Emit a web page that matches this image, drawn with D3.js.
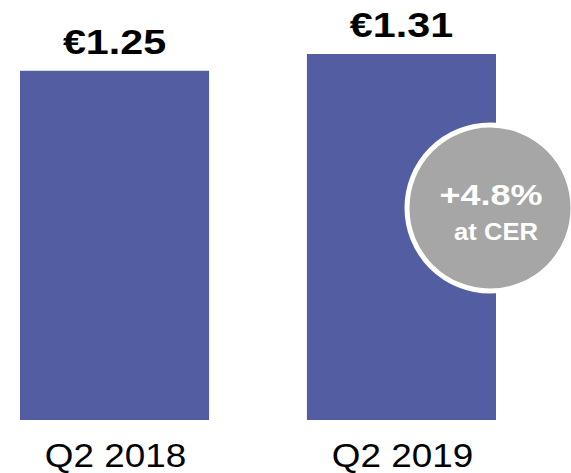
<!DOCTYPE html>
<html lang="en">
	<head>
		<meta charset="utf-8">
		<title>Q2 EPS</title>
		<script type="text/javascript" src="https://cdn.jsdelivr.net/npm/d3@7"></script>
		<style type="text/css">
			body { margin: 0; background: #fff; }
		</style>
	</head>
	<body>
		<script type="text/javascript">

			//Width and height
			var w = 571;
			var h = 473;

			//Data
			var categories = ["Q2 2018", "Q2 2019"];
			var values = [1.25, 1.31];
			var valueLabels = ["€1.25", "€1.31"];
			var growthLabel = ["+4.8%", "at CER"];

			var barColor = "#525da2";

			//Scales
			var xScale = d3.scaleBand()
						   .domain(categories)
						   .range([20, 496])
						   .paddingInner(0.341)
						   .paddingOuter(0);

			var yScale = d3.scaleLinear()
						   .domain([0, 1.31])
						   .range([420, 54]);

			var svg = d3.select("body")
						.append("svg")
						.attr("width", w)
						.attr("height", h);

			//Bars
			svg.selectAll("rect")
			   .data(values)
			   .enter()
			   .append("rect")
			   .attr("x", function(d, i) { return xScale(categories[i]); })
			   .attr("y", function(d) { return yScale(d); })
			   .attr("width", xScale.bandwidth())
			   .attr("height", function(d) { return yScale(0) - yScale(d); })
			   .attr("fill", barColor);

			//Value labels (text is a bit wide in the original, so stretch it)
			svg.selectAll("text.value")
			   .data(values)
			   .enter()
			   .append("text")
			   .attr("class", "value")
			   .attr("transform", function(d, i) {
			   		var cx = xScale(categories[i]) + xScale.bandwidth() / 2;
			   		return "translate(" + cx + "," + (yScale(d) - 17) + ") scale(1.18,1)";
			   })
			   .attr("text-anchor", "middle")
			   .attr("font-family", "Liberation Sans, Arial, sans-serif")
			   .attr("font-weight", "bold")
			   .attr("font-size", "35px")
			   .attr("fill", "#000")
			   .text(function(d, i) { return valueLabels[i]; });

			//Category labels
			svg.selectAll("text.cat")
			   .data(categories)
			   .enter()
			   .append("text")
			   .attr("class", "cat")
			   .attr("transform", function(d) {
			   		var cx = xScale(d) + xScale.bandwidth() / 2 + 1;
			   		return "translate(" + cx + "," + (yScale(0) + 46.5) + ") scale(1.1,1)";
			   })
			   .attr("text-anchor", "middle")
			   .attr("font-family", "Liberation Sans, Arial, sans-serif")
			   .attr("font-size", "33.5px")
			   .attr("fill", "#000")
			   .text(function(d) { return d; });

			//Growth bubble
			var bubble = svg.append("g")
							.attr("transform", "translate(490,208)");

			bubble.append("circle")
				  .attr("r", 83)
				  .attr("fill", "#a6a6a6")
				  .attr("stroke", "#fff")
				  .attr("stroke-width", 5);

			bubble.append("text")
				  .attr("transform", "translate(1,-3) scale(1.2,1)")
				  .attr("text-anchor", "middle")
				  .attr("font-family", "Liberation Sans, Arial, sans-serif")
				  .attr("font-weight", "bold")
				  .attr("font-size", "30px")
				  .attr("fill", "#fff")
				  .text(growthLabel[0]);

			bubble.append("text")
				  .attr("transform", "translate(6,32) scale(1.09,1)")
				  .attr("text-anchor", "middle")
				  .attr("font-family", "Liberation Sans, Arial, sans-serif")
				  .attr("font-weight", "bold")
				  .attr("font-size", "23.5px")
				  .attr("fill", "#fff")
				  .text(growthLabel[1]);

		</script>
	</body>
</html>
